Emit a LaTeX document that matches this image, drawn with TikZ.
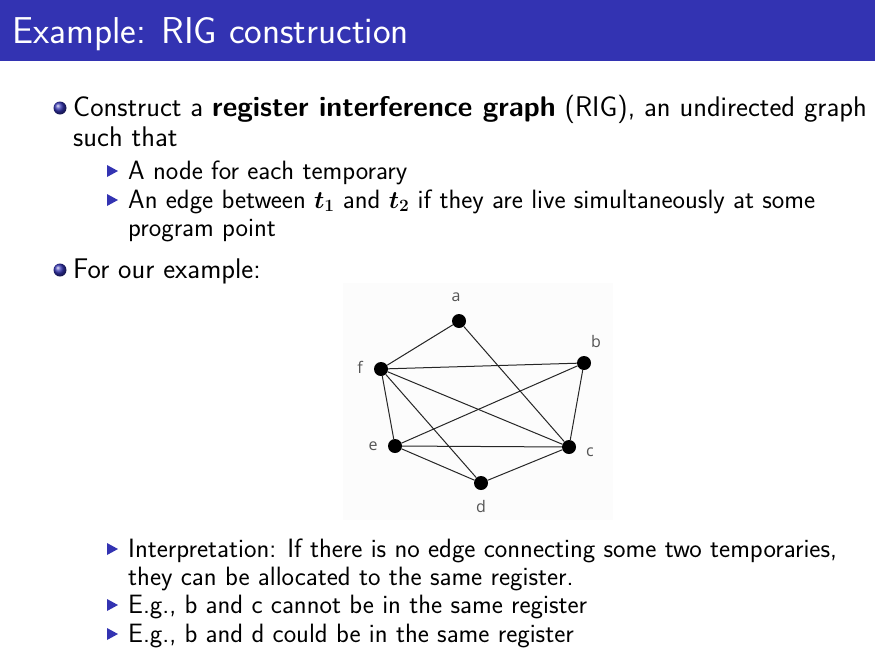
\documentclass[tikz,border=0pt]{standalone}
\usepackage{amsmath,amssymb}
\usepackage{bm}
\usepackage{fontspec}
\usepackage{xcolor}
\usepackage{tikz}
\usetikzlibrary{shadings}

\newfontfamily\lblfont{Open Sans}
\definecolor{structure}{RGB}{51,51,178}
\definecolor{lblgray}{RGB}{85,85,85}

\tikzset{
  txt/.style={font=\sffamily\fontsize{28.4}{30}\selectfont, anchor=base west, inner sep=0pt},
  subtxt/.style={font=\sffamily\fontsize{26.5}{28}\selectfont, anchor=base west, inner sep=0pt},
  ballbullet/.style={circle, minimum size=13pt, inner sep=0pt, ball color=structure},
  vertex/.style={circle, fill=black, minimum size=14pt, inner sep=0pt},
  lbl/.style={font=\lblfont\fontsize{16}{16}\selectfont, text=lblgray, inner sep=0pt},
  edge/.style={line width=1pt, black!85}
}

\begin{document}
\begin{tikzpicture}[x=1pt, y=-1pt]
  \useasboundingbox (0,0) rectangle (875,648);

  % title bar
  \fill[structure] (0,0) rectangle (875,61);
  \node[txt, text=white, font=\sffamily\fontsize{37.4}{40}\selectfont] (title) at (12,43) {Example: RIG construction};

  % bullets
  \node[ballbullet] (b1) at (60,108) {};
  \node[ballbullet] (b2) at (60,270) {};
  \foreach \y in {171,200,549,605,634}
    \fill[structure] (107,\y-6) -- (118,\y) -- (107,\y+6) -- cycle;

  % text lines
  \node[txt] (l1) at (73,116.5) {Construct a \textbf{register interference graph} (RIG), an undirected graph};
  \node[txt] (l2) at (73,146.5) {such that};
  \node[subtxt] (l3) at (128,179) {A node for each temporary};
  \node[subtxt] (l4) at (128,208) {An edge between $\bm{t_1}$ and $\bm{t_2}$ if they are live simultaneously at some};
  \node[subtxt] (l5) at (128,236) {program point};
  \node[txt] (l6) at (73,278) {For our example:};
  \node[subtxt] (l7) at (128,557) {Interpretation: If there is no edge connecting some two temporaries,};
  \node[subtxt] (l8) at (128,585) {they can be allocated to the same register.};
  \node[subtxt] (l9) at (128,613) {E.g., b and c cannot be in the same register};
  \node[subtxt] (l10) at (128,642) {E.g., b and d could be in the same register};

  % the graph
  \fill[black!1] (343,283) rectangle (613,520);
  \node[vertex] (a) at (459,321) {};
  \node[vertex] (b) at (584,363) {};
  \node[vertex] (f) at (381,369) {};
  \node[vertex] (e) at (395,446) {};
  \node[vertex] (c) at (569,447) {};
  \node[vertex] (d) at (481,483) {};
  \node[lbl] (la) at (456,297) {a};
  \node[lbl] (lb) at (596,341) {b};
  \node[lbl] (lf) at (360,367) {f};
  \node[lbl] (le) at (373,446) {e};
  \node[lbl] (lc) at (590,452) {c};
  \node[lbl] (ld) at (481,506) {d};
  \foreach \u/\v in {a/f,a/c,f/b,f/c,f/e,f/d,b/e,b/c,e/c,e/d,d/c}
    \draw[edge] (\u) -- (\v);
\end{tikzpicture}
\end{document}
